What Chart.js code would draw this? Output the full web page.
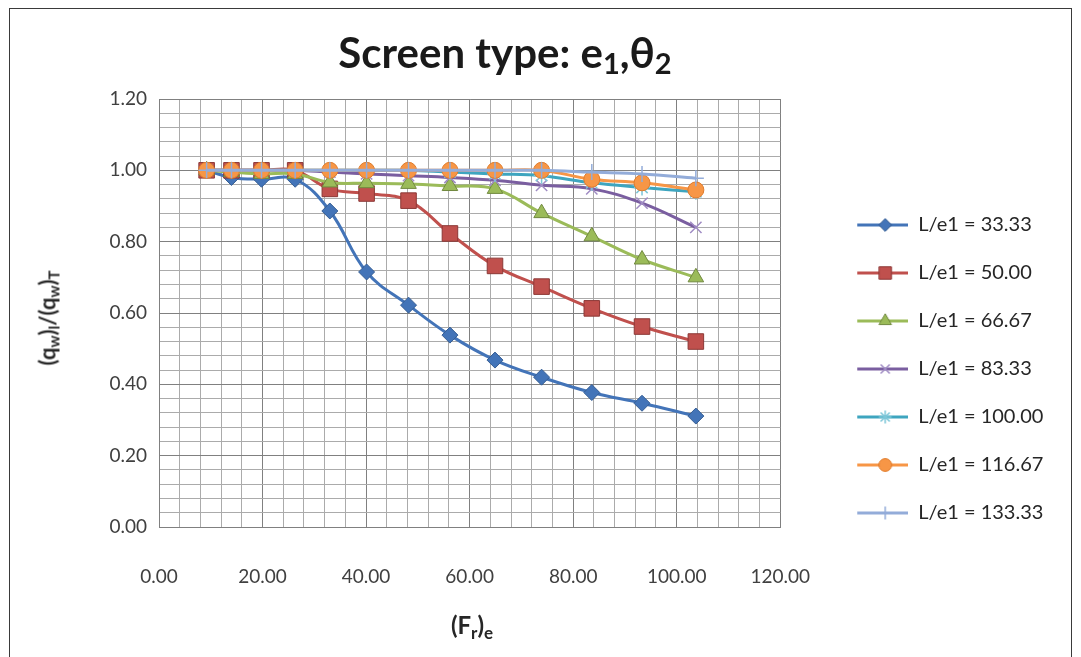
<!DOCTYPE html>
<html>
<head>
<meta charset="utf-8">
<script src="https://cdn.jsdelivr.net/npm/chart.js@4.4.1/dist/chart.umd.min.js"></script>
<style>
  html, body { margin: 0; padding: 0; background: #ffffff; }
  #wrap { position: relative; width: 1081px; height: 657px; overflow: hidden; background: #fff; }
  #frame { position: absolute; left: 9px; top: 8px; width: 1063px; height: 680px; border: 1px solid #3a3a3a; box-sizing: border-box; }
  canvas { position: absolute; left: 0; top: 0; }
  .t { position: absolute; font-family: Lato, 'Open Sans', sans-serif; color: #1a1a1a; white-space: nowrap; }
  #title { left: 505px; top: 52px; transform: translate(-50%, -50%); font-size: 42px; font-weight: bold; line-height: 48px; }
  #title sub { font-size: 29px; vertical-align: -6px; line-height: 0; }
  #ytitle { left: 47px; top: 318px; transform: translate(-50%, -50%) rotate(-90deg); font-size: 22px; font-weight: bold; color: #262626; }
  #xtitle { left: 472px; top: 624px; transform: translate(-50%, -50%); font-size: 24px; font-weight: bold; color: #262626; }
  #ytitle sub { font-size: 15px; vertical-align: -4px; line-height: 0; }
  #xtitle sub { font-size: 17px; vertical-align: -5px; line-height: 0; }
</style>
</head>
<body>
<div id="wrap">
  <div id="frame"></div>
  <canvas id="c" width="1081" height="657"></canvas>
  <div class="t" id="title">Screen type: e<sub>1</sub>,θ<sub>2</sub></div>
  <div class="t" id="ytitle">(q<sub>w</sub>)<sub>l</sub>/(q<sub>w</sub>)<sub>T</sub></div>
  <div class="t" id="xtitle">(F<sub>r</sub>)<sub>e</sub></div>
</div>
<script>
// ---- data ----
const froude = [9.2, 14.0, 19.8, 26.3, 33.0, 40.1, 48.2, 56.2, 64.9, 73.9, 83.6, 93.3, 103.7];
const seriesNames = ['L/e1 = 33.33', 'L/e1 = 50.00', 'L/e1 = 66.67', 'L/e1 = 83.33', 'L/e1 = 100.00', 'L/e1 = 116.67', 'L/e1 = 133.33'];
const ratio3333  = [1.00, 0.98, 0.975, 0.975, 0.886, 0.715, 0.622, 0.538, 0.468, 0.420, 0.377, 0.347, 0.311];
const ratio5000  = [1.00, 1.00, 1.00, 1.00, 0.948, 0.935, 0.915, 0.823, 0.732, 0.674, 0.613, 0.562, 0.520];
const ratio6667  = [1.00, 0.995, 0.99, 0.99, 0.966, 0.964, 0.962, 0.956, 0.948, 0.880, 0.815, 0.750, 0.700];
const ratio8333  = [1.00, 1.00, 1.00, 1.00, 0.995, 0.99, 0.985, 0.980, 0.972, 0.958, 0.948, 0.908, 0.840];
const ratio10000 = [1.00, 1.00, 1.00, 1.00, 1.00, 1.00, 1.00, 0.995, 0.99, 0.985, 0.965, 0.952, 0.940];
const ratio11667 = [1.00, 1.00, 1.00, 1.00, 1.00, 1.00, 1.00, 1.00, 1.00, 1.00, 0.975, 0.965, 0.945];
const ratio13333 = [1.00, 1.00, 1.00, 1.00, 1.00, 1.00, 1.00, 1.00, 1.00, 1.00, 0.995, 0.990, 0.978];
const xMajorTicks = [0, 20, 40, 60, 80, 100, 120];
const yMajorTicks = [0, 0.2, 0.4, 0.6, 0.8, 1.0, 1.2];

// ---- styles ----
const seriesValues = [ratio3333, ratio5000, ratio6667, ratio8333, ratio10000, ratio11667, ratio13333];
const styles = [
  { color: '#4374b8', border: '#355d93', point: 'rectRot',  radius: 8,  bw: 1 },
  { color: '#c0504d', border: '#8c3836', point: 'rect',     radius: 11, bw: 1 },
  { color: '#9bbb59', border: '#71893f', point: 'triangle', radius: 9,  bw: 1 },
  { color: '#7a5ea0', border: '#a08cc4', point: 'crossRot', radius: 8,  bw: 1.5 },
  { color: '#3ea5bf', border: '#7cc6d8', point: 'star',     radius: 8,  bw: 1.5 },
  { color: '#f79646', border: '#e07b2a', point: 'circle',   radius: 8,  bw: 1 },
  { color: '#93acd9', border: '#93acd9', point: 'cross',    radius: 8,  bw: 1.5 }
];

function nearMajor(v, list) { return list.some(m => Math.abs(v - m) < 1e-6); }

const datasets = seriesValues.map((vals, i) => ({
  label: seriesNames[i],
  data: froude.map((x, j) => ({ x: x, y: vals[j] })),
  borderColor: styles[i].color,
  backgroundColor: styles[i].color,
  pointBackgroundColor: styles[i].color,
  pointBorderColor: styles[i].border,
  pointBorderWidth: styles[i].bw,
  pointStyle: styles[i].point,
  pointRadius: styles[i].radius,
  borderWidth: 3,
  tension: 0.4,
  fill: false,
  order: seriesValues.length - i
}));

// legend geometry
const FAMILY = 'Lato, "Open Sans", sans-serif';
const LEG_SIZE = 20, LEG_PAD = 28, ICON_W = 100;
const PLOT_RIGHT = 780;
function legendIcon(s) {
  const c = document.createElement('canvas');
  c.width = ICON_W; c.height = 24;
  const g = c.getContext('2d');
  g.strokeStyle = s.color; g.lineWidth = 3;
  g.beginPath(); g.moveTo(49, 12); g.lineTo(ICON_W, 12); g.stroke();
  g.fillStyle = s.color; g.strokeStyle = s.border; g.lineWidth = s.bw;
  if (Chart.helpers && Chart.helpers.drawPoint) {
    Chart.helpers.drawPoint(g, { pointStyle: s.point, radius: s.radius * 0.8, borderWidth: s.bw, rotation: 0 }, 77, 12);
  }
  return c;
}
const icons = styles.map(legendIcon);

const tickFont = { family: FAMILY, size: 19 };

// let the legend's drawing box reach the canvas edge so long labels are never clipped
const legendNoClip = {
  id: 'legendNoClip',
  afterLayout(chart) {
    if (chart.legend) { chart.legend.right = chart.width; chart.legend.width = chart.width - chart.legend.left; }
  }
};

const chart = new Chart(document.getElementById('c'), {
  type: 'line',
  data: { datasets: datasets },
  plugins: [legendNoClip],
  options: {
    responsive: false,
    animation: false,
    devicePixelRatio: 1,
    layout: { padding: { left: 0, top: 99, right: 20, bottom: 0 } },
    plugins: {
      title: { display: false },
      tooltip: { enabled: false },
      legend: {
        display: true,
        position: 'right',
        align: 'start',
        title: { display: true, text: '', font: { size: 1 }, padding: { top: 86.8, bottom: 0 } },
        labels: {
          usePointStyle: true,
          pointStyleWidth: ICON_W,
          padding: LEG_PAD,
          color: '#262626',
          font: { family: FAMILY, size: LEG_SIZE },
          sort: (a, b) => a.datasetIndex - b.datasetIndex,
          generateLabels: (chart) => {
            const items = Chart.defaults.plugins.legend.labels.generateLabels(chart);
            items.forEach(it => { it.pointStyle = icons[it.datasetIndex]; it.rotation = 0; });
            return items;
          }
        }
      }
    },
    scales: {
      x: {
        type: 'linear',
        min: 0, max: 120,
        afterFit: (s) => { s.height = 130; },
        border: { color: '#808080', width: 1 },
        grid: {
          drawTicks: false,
          color: (ctx) => nearMajor(ctx.tick.value, xMajorTicks) ? '#808080' : '#ababab',
          lineWidth: 1
        },
        ticks: {
          stepSize: 4,
          autoSkip: false,
          maxRotation: 0,
          padding: 38,
          color: '#404040',
          font: tickFont,
          callback: (v) => nearMajor(v, xMajorTicks) ? Number(v).toFixed(2) : ''
        }
      },
      y: {
        type: 'linear',
        min: 0, max: 1.2,
        afterFit: (s) => { s.width = 159; },
        border: { color: '#808080', width: 1 },
        grid: {
          drawTicks: false,
          color: (ctx) => nearMajor(ctx.tick.value, yMajorTicks) ? '#808080' : '#ababab',
          lineWidth: 1
        },
        ticks: {
          stepSize: 0.04,
          autoSkip: false,
          padding: 12,
          color: '#404040',
          font: tickFont,
          callback: (v) => nearMajor(v, yMajorTicks) ? Number(v).toFixed(2) : ''
        }
      }
    }
  }
});

// pin the plot's right edge so the legend sits where the reference has it
function pinRight() {
  for (let k = 0; k < 4; k++) {
    const dr = chart.chartArea.right - PLOT_RIGHT;
    if (Math.abs(dr) < 0.5) break;
    chart.options.layout.padding.right = Math.max(0, chart.options.layout.padding.right + dr);
    chart.update();
  }
}
pinRight();
if (document.fonts && document.fonts.ready) {
  document.fonts.ready.then(() => { chart.update(); pinRight(); });
}
</script>
</body>
</html>
